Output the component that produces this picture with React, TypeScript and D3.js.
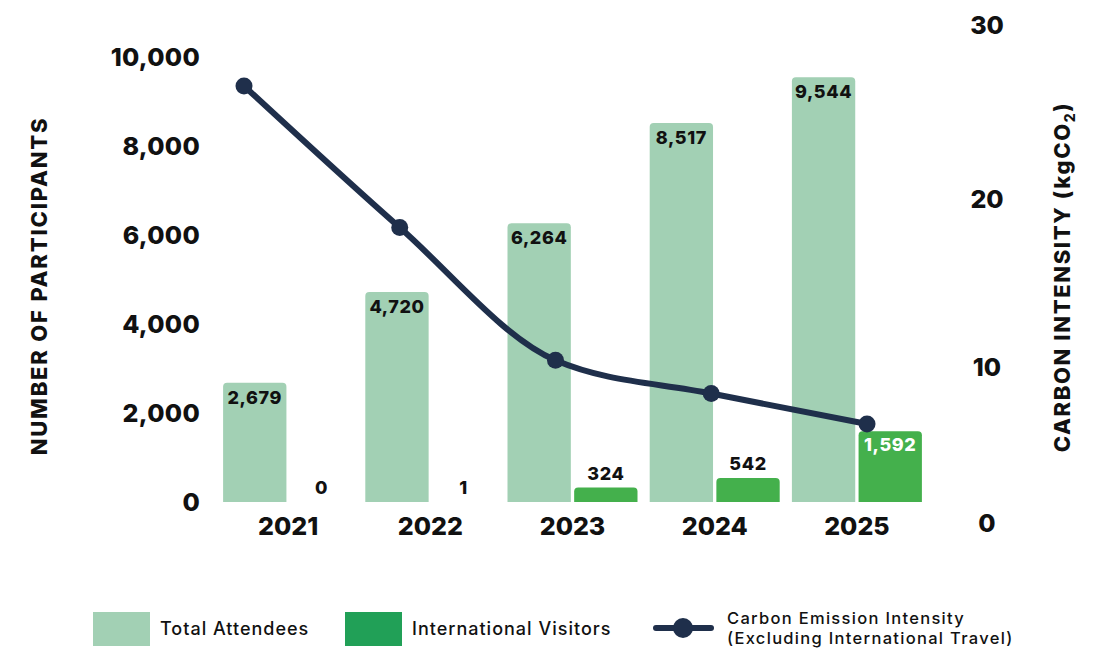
import React from "react";
import * as d3 from "d3";

const years = ["2021", "2022", "2023", "2024", "2025"];
const totalAttendees = [2679, 4720, 6264, 8517, 9544];
const internationalVisitors = [0, 1, 324, 542, 1592];
const carbonIntensity = [26.5, 18.3, 10.4, 8.3, 6.35];
const leftTicks = [0, 2000, 4000, 6000, 8000, 10000];
const rightTicks = [0, 10, 20, 30];

const W = 1098;
const H = 652;
const FONT = "Inter, 'DejaVu Sans', sans-serif";
const C_TOTAL = "#a2d0b4";
const C_INTL = "#44b04c";
const C_INTL_LEG = "#21a057";
const C_LINE = "#1f2f4b";

function topRoundedRect(x: number, y: number, w: number, h: number, r: number) {
  if (h <= 0) return "";
  const rr = Math.min(r, h, w / 2);
  const p = d3.path();
  p.moveTo(x, y + h);
  p.lineTo(x, y + rr);
  p.quadraticCurveTo(x, y, x + rr, y);
  p.lineTo(x + w - rr, y);
  p.quadraticCurveTo(x + w, y, x + w, y + rr);
  p.lineTo(x + w, y + h);
  p.closePath();
  return p.toString();
}

export default function App() {
  const x0 = d3.scaleBand<string>().domain(years).range([217, 928]).padding(0);
  const x1 = d3
    .scaleBand<string>()
    .domain(["total", "intl"])
    .range([0, 130])
    .paddingInner(0.05);
  const yL = d3.scaleLinear().domain([0, 10000]).range([502, 57]);
  const yR = d3.scaleLinear().domain([0, 10, 20, 30]).range([523, 367, 199, 25]);
  const xLine = d3.scalePoint<string>().domain(years).range([244, 867]);

  const lineGen = d3
    .line<number>()
    .x((_, i) => xLine(years[i]) as number)
    .y((d) => yR(d))
    .curve(d3.curveMonotoneX);

  const bw = x1.bandwidth();

  return (
    <svg
      width={W}
      height={H}
      style={{ position: "absolute", left: 0, top: 0, background: "#fff" }}
      fontFamily={FONT}
    >
      {/* bars */}
      {years.map((yr, i) => {
        const c = (x0(yr) as number) + x0.bandwidth() / 2;
        const base = c - 65;
        const tx = base + (x1("total") as number);
        const ix = base + (x1("intl") as number);
        const tTop = yL(totalAttendees[i]);
        const iTop = yL(internationalVisitors[i]);
        const iH = yL(0) - iTop;
        const inside = iH > 40;
        return (
          <g key={yr}>
            <path d={topRoundedRect(tx, tTop, bw, yL(0) - tTop, 4)} fill={C_TOTAL} />
            <path d={topRoundedRect(ix, iTop, bw, iH, 4)} fill={C_INTL} />
            <text
              x={tx + bw / 2}
              y={tTop + 21}
              textAnchor="middle"
              fontSize={18}
              fontWeight={800}
              letterSpacing={0.6}
              fill="#111"
            >
              {d3.format(",")(totalAttendees[i])}
            </text>
            <text
              x={ix + bw / 2}
              y={inside ? iTop + 20 : iTop - 8}
              textAnchor="middle"
              fontSize={18}
              fontWeight={800}
              letterSpacing={0.6}
              fill={inside ? "#fff" : "#111"}
            >
              {d3.format(",")(internationalVisitors[i])}
            </text>
            <text
              x={c}
              y={535}
              textAnchor="middle"
              fontSize={25}
              fontWeight={800}
              fill="#111"
            >
              {yr}
            </text>
          </g>
        );
      })}

      {/* line */}
      <path d={lineGen(carbonIntensity) || ""} fill="none" stroke={C_LINE} strokeWidth={6} strokeLinecap="round" />
      {carbonIntensity.map((v, i) => (
        <circle key={i} cx={xLine(years[i]) as number} cy={yR(v)} r={8.5} fill={C_LINE} />
      ))}

      {/* left axis */}
      {leftTicks.map((t) => (
        <text
          key={t}
          x={200}
          y={yL(t)}
          dy="0.35em"
          textAnchor="end"
          fontSize={25}
          fontWeight={800}
          letterSpacing={0.3}
          fill="#111"
        >
          {d3.format(",")(t)}
        </text>
      ))}
      <text
        transform={`translate(47,286) rotate(-90)`}
        textAnchor="middle"
        fontSize={22}
        fontWeight={800}
        letterSpacing={1.8}
        fill="#111"
      >
        NUMBER OF PARTICIPANTS
      </text>

      {/* right axis */}
      {rightTicks.map((t) => (
        <text
          key={t}
          x={987}
          y={yR(t)}
          dy="0.35em"
          textAnchor="middle"
          fontSize={25}
          fontWeight={800}
          fill="#111"
        >
          {t}
        </text>
      ))}
      <text
        transform={`translate(1070,277) rotate(-90)`}
        textAnchor="middle"
        fontSize={22}
        fontWeight={800}
        letterSpacing={1.6}
        fill="#111"
      >
        CARBON INTENSITY (kgCO
        <tspan fontSize={14} dy={5}>2</tspan>
        <tspan dy={-5}>)</tspan>
      </text>

      {/* legend */}
      <rect x={93} y={612} width={57} height={34} fill={C_TOTAL} />
      <text x={160} y={629} dy="0.35em" fontSize={18} fontWeight={500} letterSpacing={1} fill="#111">
        Total Attendees
      </text>
      <rect x={345} y={612} width={57} height={34} fill={C_INTL_LEG} />
      <text x={412} y={629} dy="0.35em" fontSize={18} fontWeight={500} letterSpacing={1} fill="#111">
        International Visitors
      </text>
      <line x1={656} x2={711} y1={628} y2={628} stroke={C_LINE} strokeWidth={6} strokeLinecap="round" />
      <circle cx={683} cy={628} r={10} fill={C_LINE} />
      <text x={727} y={618} dy="0.35em" fontSize={16.5} fontWeight={500} letterSpacing={1.3} fill="#111">
        Carbon Emission Intensity
      </text>
      <text x={727} y={638} dy="0.35em" fontSize={16.5} fontWeight={500} letterSpacing={1.3} fill="#111">
        (Excluding International Travel)
      </text>
    </svg>
  );
}
